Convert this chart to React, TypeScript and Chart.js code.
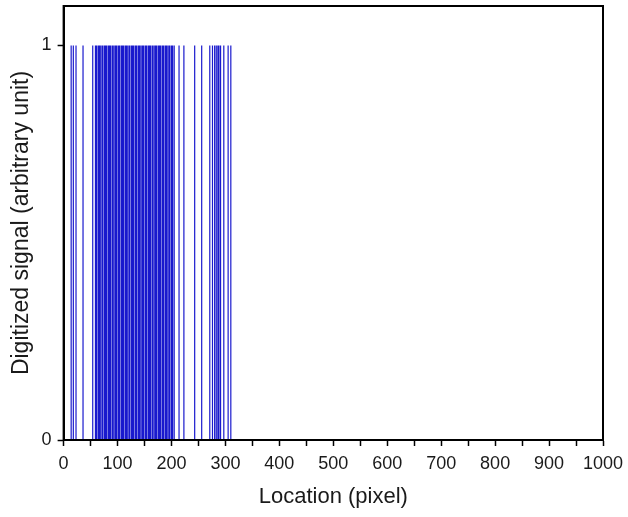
import React, { useEffect, useRef } from "react";
import { Chart, registerables } from "chart.js";

Chart.register(...registerables);

// Locations (pixel) where the digitized signal equals 1
const signalLocations: number[] = [
  14, 18, 23, 36,
  54, 59, 61, 64, 66, 68, 71, 73, 76, 78, 80, 83, 85, 87, 90, 92, 95, 97, 99, 102,
  104, 107, 109, 111, 114, 116, 118, 121, 123, 126, 128, 130, 133, 135, 138, 140,
  142, 145, 147, 149, 152, 154, 157, 159, 161, 164, 166, 169, 171, 173, 176, 178,
  180, 183, 185, 188, 190, 192, 195, 197, 200, 202, 205,
  214, 223, 243, 256, 271, 276, 280, 283, 286, 288, 291, 297, 305, 310,
];
const signalHigh = 1;
const signalLow = 0;

const xTickValues: number[] = [0, 50, 100, 150, 200, 250, 300, 350, 400, 450, 500, 550, 600, 650, 700, 750, 800, 850, 900, 950, 1000];
const yTickValues: number[] = [0, 1];

const xTitle = "Location (pixel)";
const yTitle = "Digitized signal (arbitrary unit)";

const framePlugin = {
  id: "frame",
  afterDraw(chart: any) {
    const { ctx, chartArea } = chart;
    ctx.save();
    ctx.strokeStyle = "#000";
    ctx.lineWidth = 2;
    ctx.strokeRect(chartArea.left, chartArea.top, chartArea.right - chartArea.left, chartArea.bottom - chartArea.top);
    ctx.restore();
  },
};

export default function App() {
  const ref = useRef<HTMLCanvasElement | null>(null);
  useEffect(() => {
    document.body.style.margin = "0";
    const pts: any[] = [];
    signalLocations.forEach((x) => {
      pts.push({ x, y: signalLow });
      pts.push({ x, y: signalHigh });
      pts.push({ x, y: null });
    });
    const chart = new Chart(ref.current as HTMLCanvasElement, {
      type: "line",
      data: {
        datasets: [
          {
            data: pts,
            borderColor: "rgb(25,25,205)",
            borderWidth: 1.2,
            pointRadius: 0,
            spanGaps: false,
            tension: 0,
          },
        ],
      },
      plugins: [framePlugin],
      options: {
        animation: false,
        responsive: false,
        maintainAspectRatio: false,
        layout: { padding: { top: 6, right: 25, left: 8, bottom: 7 } },
        plugins: { legend: { display: false }, tooltip: { enabled: false } },
        scales: {
          x: {
            type: "linear",
            min: 0,
            max: 1000,
            afterBuildTicks: (s: any) => {
              s.ticks = xTickValues.map((v) => ({ value: v }));
            },
            afterFit: (s: any) => {
              s.paddingLeft = 0;
              s.paddingRight = 0;
            },
            ticks: {
              color: "#1a1a1a",
              font: { family: "Liberation Sans, Arial", size: 18 },
              autoSkip: false,
              maxRotation: 0,
              padding: 7,
              callback: (v: any) => (Number(v) % 100 === 0 ? String(v) : ""),
            },
            grid: {
              drawOnChartArea: false,
              tickLength: 6,
              tickWidth: 1.5,
              tickColor: "#000",
            },
            border: { color: "#000", width: 2 },
            title: {
              display: true,
              text: xTitle,
              color: "#1a1a1a",
              font: { family: "Liberation Sans, Arial", size: 22 },
              padding: { top: 2, bottom: 0 },
            },
          },
          y: {
            type: "linear",
            min: 0,
            max: 1.1,
            afterBuildTicks: (s: any) => {
              s.ticks = yTickValues.map((v) => ({ value: v }));
            },
            afterFit: (s: any) => {
              s.paddingTop = 0;
              s.paddingBottom = 0;
            },
            ticks: {
              color: "#1a1a1a",
              font: { family: "Liberation Sans, Arial", size: 18 },
              padding: 6,
            },
            grid: {
              drawOnChartArea: false,
              tickLength: 6,
              tickWidth: 1.5,
              tickColor: "#000",
            },
            border: { color: "#000", width: 2 },
            title: {
              display: true,
              text: yTitle,
              color: "#1a1a1a",
              font: { family: "Liberation Sans, Arial", size: 23 },
              padding: { top: 0, bottom: 0 },
            },
          },
        },
      },
    } as any);
    return () => chart.destroy();
  }, []);
  return (
    <div style={{ position: "fixed", left: 0, top: 0, width: 628, height: 517, background: "#fff" }}>
      <canvas ref={ref} width={628} height={517} style={{ width: 628, height: 517 }} />
    </div>
  );
}
